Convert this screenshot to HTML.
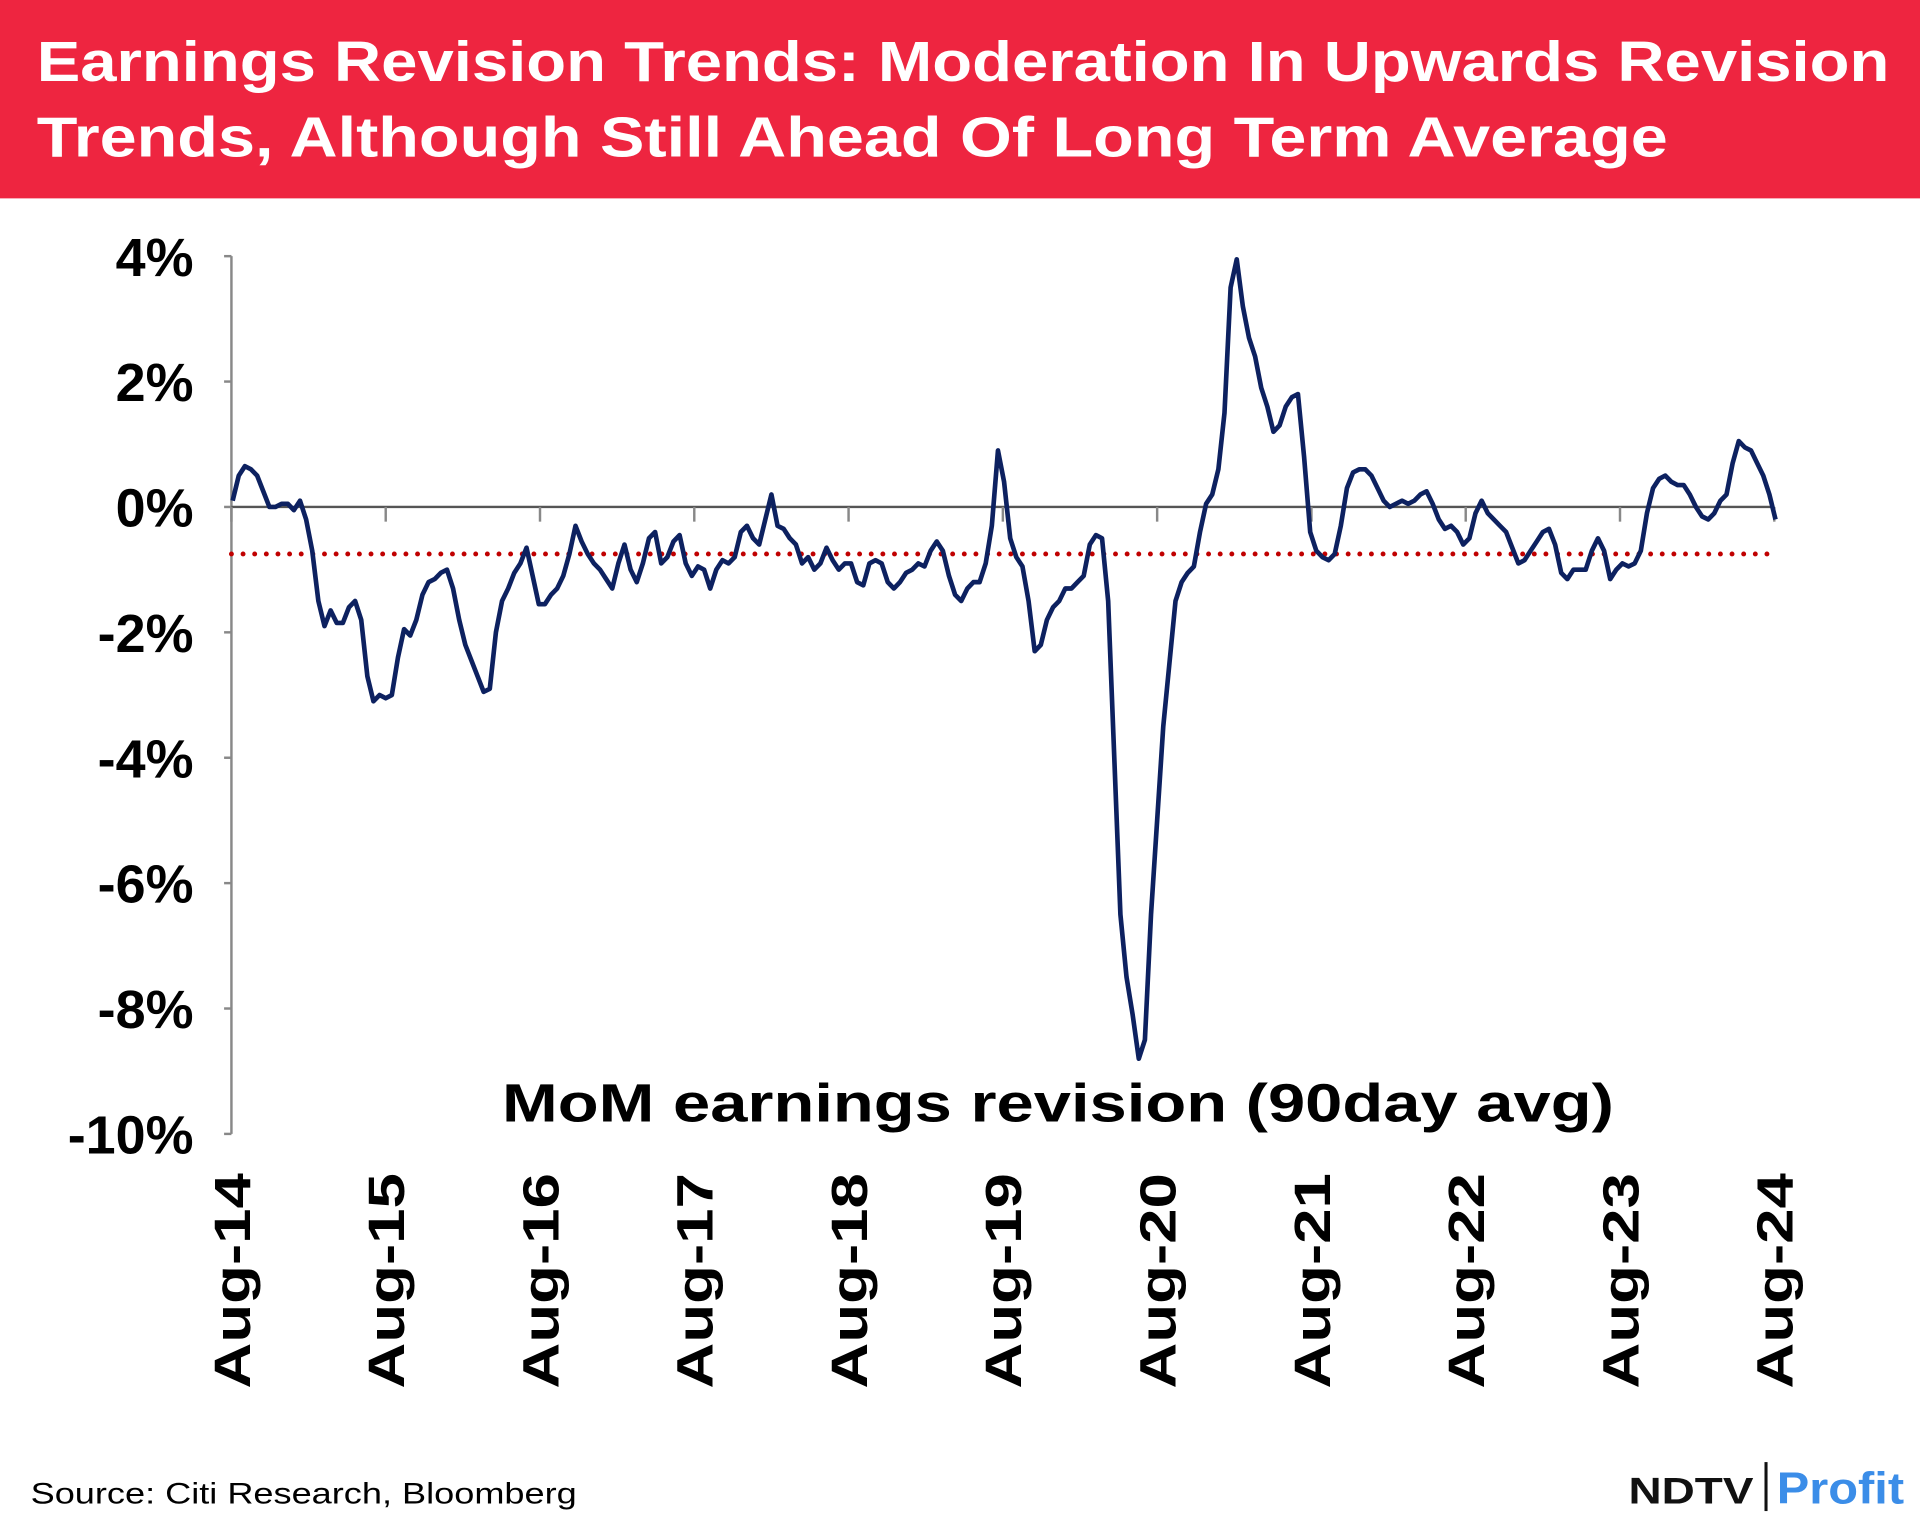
<!DOCTYPE html>
<html><head><meta charset="utf-8"><style>
html,body{margin:0;padding:0;background:#fff;}
svg{display:block;}
text{font-family:"Liberation Sans",sans-serif;font-weight:bold;}
</style></head><body>
<svg id="chart" width="1920" height="1520" viewBox="0 0 1568 1241.3" preserveAspectRatio="none" xmlns="http://www.w3.org/2000/svg">
<rect x="0" y="0" width="1568" height="162" fill="#EE2540"/>
<text x="30" y="66" fill="#fff" font-size="46" textLength="1513" lengthAdjust="spacingAndGlyphs">Earnings Revision Trends: Moderation In Upwards Revision</text>
<text x="30" y="128" fill="#fff" font-size="46" textLength="1332" lengthAdjust="spacingAndGlyphs">Trends, Although Still Ahead Of Long Term Average</text>
<g id="axes"></g>
<g id="series"></g>
<text x="410" y="916" font-size="44" textLength="908" lengthAdjust="spacingAndGlyphs">MoM earnings revision (90day avg)</text>
<text x="25" y="1228" font-size="24" font-weight="normal" style="font-weight:500" textLength="446" lengthAdjust="spacingAndGlyphs">Source: Citi Research, Bloomberg</text>
<g>
<text x="1330" y="1228" font-size="30" fill="#111" textLength="102" lengthAdjust="spacingAndGlyphs">NDTV</text>
<rect x="1441" y="1194" width="2.5" height="40" fill="#111"/>
<text x="1451" y="1228" font-size="36" fill="#3b8de8" textLength="104" lengthAdjust="spacingAndGlyphs">Profit</text>
</g>
</svg>
<script>
const yTicks=[4,2,0,-2,-4,-6,-8,-10];
const yTickLabels=["4%","2%","0%","-2%","-4%","-6%","-8%","-10%"];
const xTickLabels=["Aug-14","Aug-15","Aug-16","Aug-17","Aug-18","Aug-19","Aug-20","Aug-21","Aug-22","Aug-23","Aug-24"];
const longTermAverage=-0.75;
const revisionValues=[0.1,0.5,0.65,0.6,0.5,0.25,0,0,0.05,0.05,-0.05,0.1,-0.2,-0.7,
-1.5,-1.9,-1.65,-1.85,-1.85,-1.6,-1.5,-1.8,-2.7,-3.1,-3.0,-3.05,-3.0,-2.4,-1.95,-2.05,-1.8,-1.4,-1.2,-1.15,-1.05,-1.0,-1.3,-1.8,-2.2,-2.45,-2.7,-2.95,-2.9,-2.0,-1.5,-1.3,-1.05,-0.9,-0.65,-1.1,-1.55,-1.55,-1.4,-1.3,-1.1,-0.75,-0.3,-0.55,-0.75,
-0.9,-1.0,-1.15,-1.3,-0.9,-0.6,-1.0,-1.2,-0.9,-0.5,-0.4,-0.9,-0.8,-0.55,-0.45,-0.9,-1.1,-0.95,-1.0,-1.3,-1.0,-0.85,-0.9,-0.8,-0.4,-0.3,-0.5,-0.6,-0.2,0.2,-0.3,-0.35,-0.5,-0.6,-0.9,-0.8,-1.0,-0.9,-0.65,-0.85,-1.0,-0.9,-0.9,-1.2,-1.25,-0.9,-0.85,-0.9,-1.2,-1.3,-1.2,-1.05,-1.0,-0.9,-0.95,-0.7,-0.55,-0.7,-1.1,-1.4,-1.5,-1.3,-1.2,-1.2,-0.9,-0.3,0.9,0.4,-0.5,-0.8,-0.95,-1.5,-2.3,-2.2,-1.8,-1.6,-1.5,-1.3,-1.3,-1.2,-1.1,-0.6,-0.45,-0.5,-1.5,-4.0,-6.5,-7.5,-8.1,-8.8,-8.5,-6.5,-5.0,-3.5,-2.5,-1.5,-1.2,-1.05,-0.95,-0.4,0.05,0.2,0.6,1.5,3.5,
3.95,3.2,2.7,2.4,1.9,1.6,1.2,1.3,1.6,1.75,1.8,0.8,-0.4,-0.7,-0.8,-0.85,-0.75,-0.3,0.3,0.55,0.6,0.6,0.5,
0.3,0.1,0.0,0.05,0.1,0.05,0.1,0.2,0.25,0.05,-0.2,-0.35,-0.3,-0.4,-0.6,-0.5,-0.1,0.1,-0.1,-0.2,-0.3,-0.4,-0.65,-0.9,-0.85,-0.7,-0.55,-0.4,-0.35,-0.6,-1.05,-1.15,-1.0,-1.0,-1.0,-0.7,-0.5,-0.7,-1.15,-1.0,-0.9,-0.95,-0.9,-0.7,-0.1,0.3,0.45,0.5,0.4,0.35,0.35,0.2,0.0,-0.15,-0.2,-0.1,0.1,0.2,0.7,1.05,0.95,0.9,0.7,0.5,0.2,-0.2];

const NS="http://www.w3.org/2000/svg";
const X0=189,X1=1449,Y0=414,PX=51.2;
const yScale=v=>Y0-v*PX;
const xYear=k=>X0+k*(X1-X0)/(xTickLabels.length-1);
const xIdx=i=>190+i*(1450-190)/(revisionValues.length-1);
function mk(tag,attrs,parent){const e=document.createElementNS(NS,tag);for(const k in attrs)e.setAttribute(k,attrs[k]);parent.appendChild(e);return e;}
const axes=document.getElementById('axes'),series=document.getElementById('series');
let l=mk('line',{x1:X0,y1:yScale(4),x2:X0,y2:yScale(-10),stroke:'#888','stroke-width':2},axes);


yTicks.forEach((v,i)=>{
 const t=mk('line',{x1:X0-6,y1:yScale(v),x2:X0,y2:yScale(v),stroke:'#888','stroke-width':2},axes);
 
 
 const tx=mk('text',{x:158,y:yScale(v)+16,'font-size':44,'text-anchor':'end',fill:'#000'},axes);
 tx.textContent=yTickLabels[i];
 
 
});
const z=mk('line',{x1:X0,y1:Y0,x2:X1,y2:Y0,stroke:'#555','stroke-width':2},axes);


xTickLabels.forEach((lab,k)=>{
 const x=xYear(k);
 const t=mk('line',{x1:x,y1:Y0,x2:x,y2:Y0+12,stroke:'#888','stroke-width':2},axes);
 
 
 const tx=mk('text',{x:0,y:0,'font-size':42,'text-anchor':'end',fill:'#000',transform:`translate(${x+15},958) rotate(-90)`,textLength:176,lengthAdjust:'spacingAndGlyphs'},axes);
 tx.textContent=lab;
 
 
});
const avg=mk('line',{x1:X0,y1:yScale(longTermAverage),x2:X1,y2:yScale(longTermAverage),stroke:'#c00000','stroke-width':4,'stroke-dasharray':'0 9.5','stroke-linecap':'round'},series);


const d=revisionValues.map((v,i)=>(i?'L':'M')+xIdx(i).toFixed(1)+','+yScale(v).toFixed(1)).join('');
const p=mk('path',{d:d,fill:'none',stroke:'#0d2160','stroke-width':3.8,'stroke-linejoin':'round'},series);


</script>
</body></html>
